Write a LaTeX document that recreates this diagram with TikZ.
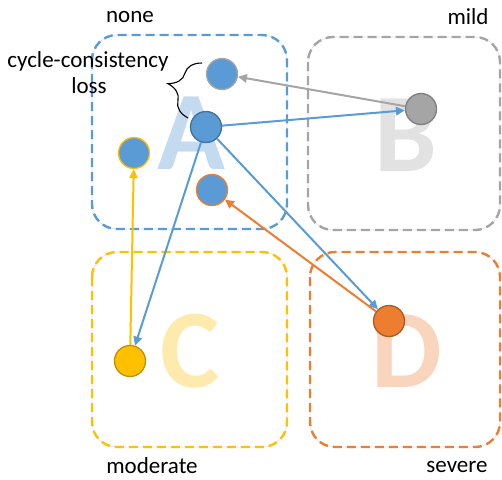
\documentclass[tikz,border=0pt]{standalone}
\usepackage{fontspec}
\setmainfont{Carlito}
\usetikzlibrary{arrows.meta,decorations.pathreplacing}
\definecolor{oblue}{HTML}{5B9BD5}
\definecolor{oblueD}{HTML}{41719C}
\definecolor{ogray}{HTML}{A5A5A5}
\definecolor{ograyD}{HTML}{7F7F7F}
\definecolor{oyellow}{HTML}{FFC000}
\definecolor{oyellowD}{HTML}{BF9000}
\definecolor{oorange}{HTML}{ED7D31}
\definecolor{oorangeD}{HTML}{AE5A21}
\definecolor{lA}{HTML}{C3DAEF}
\definecolor{lB}{HTML}{E2E2E2}
\definecolor{lC}{HTML}{FFEAAE}
\definecolor{lD}{HTML}{F9D5BD}
\begin{document}
\begin{tikzpicture}[x=1pt,y=-1pt,
  regionbase/.style={draw=black!12,line width=0.6pt,rounded corners=25pt},
  region/.style={line width=2.4pt,rounded corners=25pt,dash pattern=on 9pt off 5pt},
  bigletter/.style={inner sep=0pt,font=\fontsize{112}{112}\selectfont\bfseries},
  dot/.style={circle,minimum size=31pt,inner sep=0pt,line width=1.3pt},
  lbl/.style={inner sep=0pt,anchor=base,font=\fontsize{23}{26}\selectfont},
  conn/.style={line width=2pt,-{Triangle[length=9pt,width=8.5pt]}}]
\useasboundingbox (0,0) rectangle (502,479);
% regions
\draw[regionbase] (92,35) rectangle (287,229);
\draw[regionbase] (308,37) rectangle (500,230);
\draw[regionbase] (92,252) rectangle (287,447);
\draw[regionbase] (310,252) rectangle (500,447);
\draw[region,draw=oblue] (92,35) rectangle (287,229);
\draw[region,draw=ogray] (308,37) rectangle (500,230);
\draw[region,draw=oyellow] (92,252) rectangle (287,447);
\draw[region,draw=oorange] (310,252) rectangle (500,447);
% big letters
\node[bigletter,text=lA] (LA) at (191,133) {A};
\node[bigletter,text=lB] (LB) at (406,135) {B};
\node[bigletter,text=lC] (LC) at (190,351) {C};
\node[bigletter,text=lD] (LD) at (407,351) {D};
% labels
\node[lbl] (none) at (130,22) {none};
\node[lbl] (mild) at (468,24) {mild};
\node[lbl] (moderate) at (152,473) {moderate};
\node[lbl] (severe) at (457,472) {severe};
\node[lbl] (cyc) at (88,67) {cycle-consistency};
\node[lbl] (loss) at (89,93) {loss};
% dots
\node[dot,fill=oblue,draw=ogray] (Ab) at (222,74) {};
\node[dot,fill=oblue,draw=oblueD] (A) at (206,127) {};
\node[dot,fill=oblue,draw=oyellow] (Ac) at (134,153) {};
\node[dot,fill=oblue,draw=oorange] (Ad) at (212,190) {};
\node[dot,fill=ogray,draw=ograyD] (B) at (421,109) {};
\node[dot,fill=oyellow,draw=oyellowD] (C) at (130,361) {};
\node[dot,fill=oorange,draw=oorangeD] (D) at (389,321) {};
% connectors
\draw[conn,draw=ogray,fill=ogray] (B) -- (Ab);
\draw[conn,draw=oblue,fill=oblue] (A) -- (B);
\draw[conn,draw=oblue,fill=oblue] (A) -- (C);
\draw[conn,draw=oblue,fill=oblue] (A) -- (D);
\draw[conn,draw=oyellow,fill=oyellow] (C) -- (Ac);
\draw[conn,draw=oorange,fill=oorange] (D) -- (Ad);
% brace
\coordinate (br1) at (188,118);
\coordinate (br2) at (202,63);
\draw[line width=1.1pt,decorate,decoration={brace,amplitude=28pt,aspect=0.5}] (br1) -- (br2);
\end{tikzpicture}
\end{document}
